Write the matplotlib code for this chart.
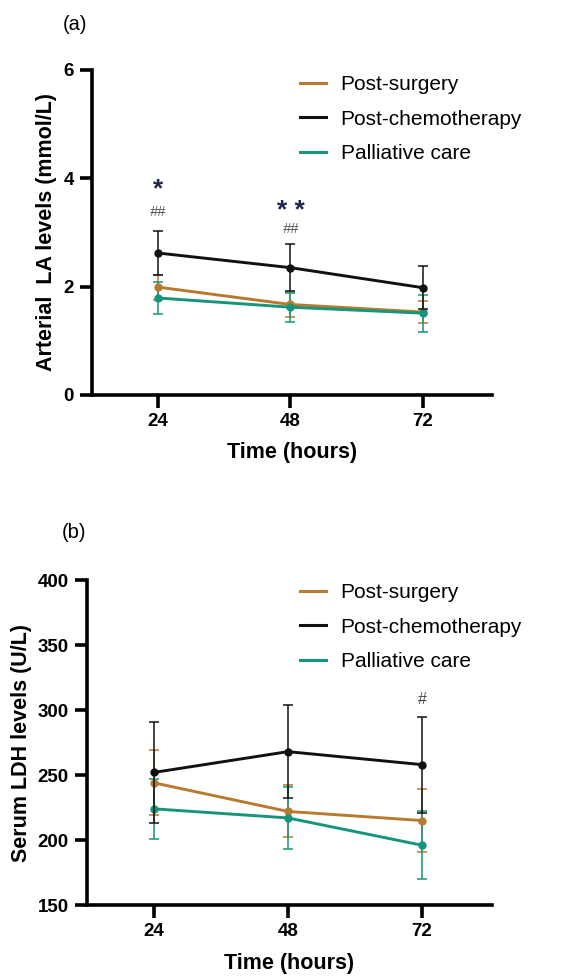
import numpy as np
import matplotlib
matplotlib.use("Agg")
import matplotlib.pyplot as plt
from matplotlib.lines import Line2D

plt.rcParams['font.family'] = ['Liberation Sans', 'DejaVu Sans']

# data
hours = [24, 48, 72]
groups = ["Post-surgery", "Post-chemotherapy", "Palliative care"]
colors = ["#b87a2e", "#111111", "#16957d"]

la_mean = {
    "Post-surgery": [1.99, 1.67, 1.53],
    "Post-chemotherapy": [2.62, 2.35, 1.98],
    "Palliative care": [1.79, 1.62, 1.51],
}
la_sd = {
    "Post-surgery": [0.23, 0.23, 0.21],
    "Post-chemotherapy": [0.41, 0.44, 0.40],
    "Palliative care": [0.30, 0.27, 0.34],
}
la_marks = [(24, 3.80, "*"), (48, 3.40, "* *")]
la_hash = [(24, 3.38, "##"), (48, 3.06, "##")]

ldh_mean = {
    "Post-surgery": [244, 222, 215],
    "Post-chemotherapy": [252, 268, 258],
    "Palliative care": [224, 217, 196],
}
ldh_sd = {
    "Post-surgery": [25, 20, 24],
    "Post-chemotherapy": [39, 36, 37],
    "Palliative care": [23, 24, 26],
}
ldh_hash = [(72, 308, "#")]


def draw_panel(ax, means, sds, leg_anchor):
    for g, c in zip(groups, colors):
        ax.errorbar(hours, means[g], yerr=sds[g], color=c, lw=2.1,
                    marker='o', ms=5, elinewidth=1.1, capsize=3.5,
                    capthick=1.1, zorder=3 if c == "#111111" else 2)
    ax.spines['top'].set_visible(False)
    ax.spines['right'].set_visible(False)
    for s in ['left', 'bottom']:
        ax.spines[s].set_linewidth(2.6)
    ax.tick_params(width=2.6, length=9, labelsize=13.5, pad=4)
    ax.set_xlim(12, 84.5)
    ax.set_xticks(hours)
    ax.set_xlabel("Time (hours)", fontsize=15.5, fontweight='bold', labelpad=9)
    handles = [Line2D([], [], color=c, lw=2.2) for c in colors]
    ax.legend(handles, groups, loc='upper left', frameon=False, fontsize=15,
              handlelength=1.25, handletextpad=0.7, labelspacing=0.75,
              borderpad=0, borderaxespad=0,
              bbox_to_anchor=leg_anchor, bbox_transform=ax.figure.transFigure)


fig = plt.figure(figsize=(5.87, 9.8), dpi=100)

ax1 = fig.add_axes([0.1567, 0.597, 0.681, 0.3316])
draw_panel(ax1, la_mean, la_sd, (300 / 587, 1 - 75 / 980))
ax1.set_ylim(0, 6)
ax1.set_yticks([0, 2, 4, 6])
ax1.set_ylabel("Arterial  LA levels (mmol/L)", fontsize=15.5, fontweight='bold', labelpad=5)
for x, y, s in la_marks:
    ax1.text(x, y, s, ha='center', va='center', fontsize=19, fontweight='bold', color='#1d2750')
for x, y, s in la_hash:
    ax1.text(x, y, s, ha='center', va='center', fontsize=10.5, color='#555555', style='italic')
fig.text(63 / 587, 1 - 25 / 980, "(a)", fontsize=14.5, va='center', ha='left')

ax2 = fig.add_axes([0.148, 0.0765, 0.690, 0.3316])
draw_panel(ax2, ldh_mean, ldh_sd, (300 / 587, 1 - 583 / 980))
ax2.set_ylim(150, 400)
ax2.set_yticks([150, 200, 250, 300, 350, 400])
ax2.set_ylabel("Serum LDH levels (U/L)", fontsize=15.5, fontweight='bold', labelpad=4)
for x, y, s in ldh_hash:
    ax2.text(x, y, s, ha='center', va='center', fontsize=11.5, color='#444444')
fig.text(62 / 587, 1 - 533 / 980, "(b)", fontsize=14.5, va='center', ha='left')

for ax in (ax1, ax2):
    for lab in ax.get_xticklabels() + ax.get_yticklabels():
        lab.set_fontweight('bold')

fig.savefig("out.png", dpi=100)
